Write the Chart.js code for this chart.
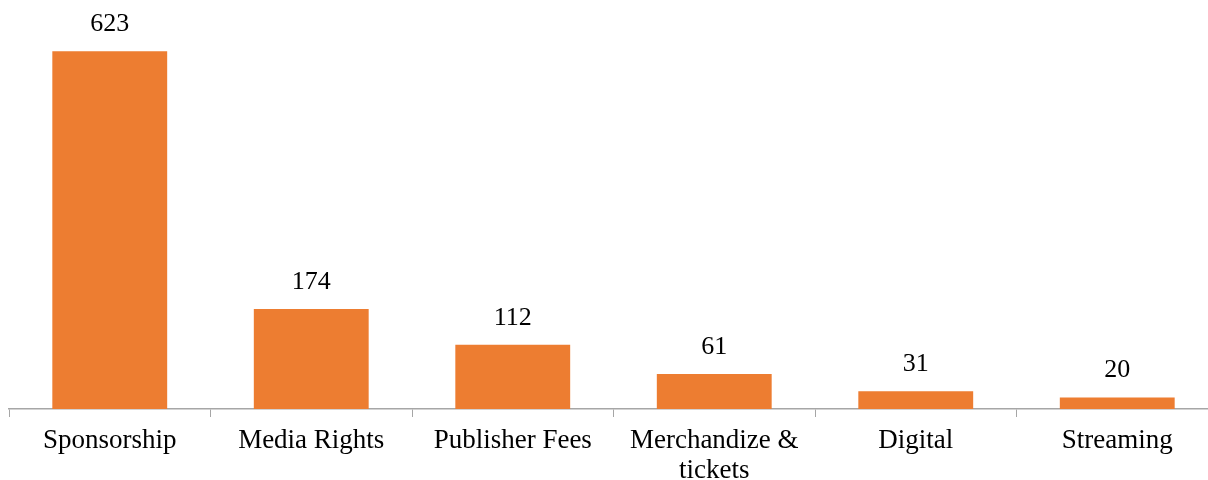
<!DOCTYPE html>
<html>
<head>
<meta charset="utf-8">
<script src="https://cdn.jsdelivr.net/npm/chart.js@4/dist/chart.umd.min.js"></script>
<style>
  html, body { margin: 0; padding: 0; background: #fff; overflow: hidden; }
  #wrap { position: relative; width: 1220px; height: 480px; }
</style>
</head>
<body>
<div id="wrap"><canvas id="revenue"></canvas></div>
<script>
// Revenue by stream
const categories = ["Sponsorship", "Media Rights", "Publisher Fees", ["Merchandize &", "tickets"], "Digital", "Streaming"];
const revenue = [623, 174, 112, 61, 31, 20];

const BAR_COLOR = "#ED7D31";
const AXIS_COLOR = "#a6a6a6";
const FONT = "'Liberation Serif', 'Times New Roman', serif";

// Value above each bar
const valueLabels = {
  id: "valueLabels",
  afterDatasetsDraw(chart) {
    const { ctx } = chart;
    const meta = chart.getDatasetMeta(0);
    ctx.save();
    ctx.font = `26px ${FONT}`;
    ctx.fillStyle = "#000";
    ctx.textAlign = "center";
    ctx.textBaseline = "middle";
    meta.data.forEach((bar, i) => {
      ctx.fillText(String(revenue[i]), bar.x, bar.y - 27);
    });
    ctx.restore();
  },
};

new Chart(document.getElementById("revenue"), {
  type: "bar",
  data: {
    labels: categories,
    datasets: [{
      data: revenue,
      backgroundColor: BAR_COLOR,
      barPercentage: 0.57,
      categoryPercentage: 1,
    }],
  },
  options: {
    responsive: true,
    maintainAspectRatio: false,
    animation: false,
    layout: { padding: { top: 7, left: 9, right: 2, bottom: 0 } },
    plugins: { legend: { display: false }, tooltip: { enabled: false } },
    scales: {
      x: {
        afterFit: (scale) => { scale.height = 71; },
        grid: { drawOnChartArea: false, drawTicks: true, tickLength: 8, color: AXIS_COLOR, offset: true },
        border: { color: AXIS_COLOR, width: 1.5 },
        ticks: { color: "#000", padding: 9, maxRotation: 0, autoSkip: false, font: { family: FONT, size: 27, lineHeight: 1.12 } },
      },
      y: {
        display: false,
        min: 0,
        max: 700,
      },
    },
  },
  plugins: [valueLabels],
});
</script>
</body>
</html>
